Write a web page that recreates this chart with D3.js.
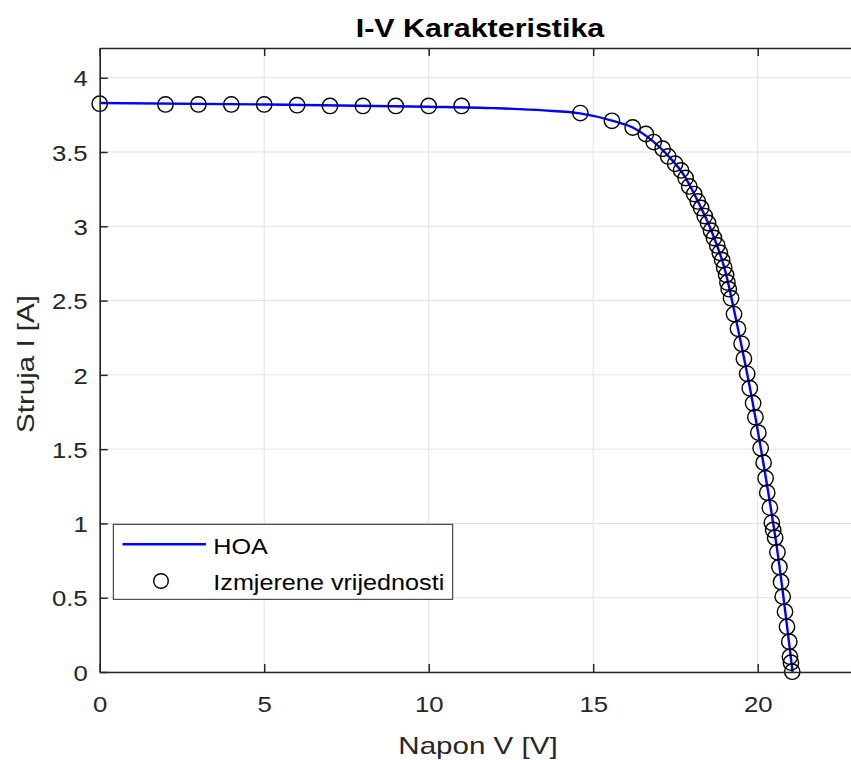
<!DOCTYPE html>
<html>
<head>
<meta charset="utf-8">
<script src="https://cdn.jsdelivr.net/npm/d3@7"></script>
<style>
  html, body { margin: 0; padding: 0; background: #fff; }
  svg { display: block; font-family: "Liberation Sans", Arial, sans-serif; }
</style>
</head>
<body>
<svg id="chart" width="851" height="760"></svg>
<script>
// Measured operating points (voltage V, current A)
const measuredV = [0, 2, 3, 4, 5, 6, 7, 8, 9, 10, 11,
  14.61, 15.57, 16.20, 16.60, 16.84, 17.11, 17.28, 17.49, 17.67, 17.81,
  17.92, 18.07, 18.18, 18.28, 18.39, 18.49, 18.58, 18.67, 18.77, 18.85,
  18.92, 18.98, 19.04, 19.08, 19.12, 19.19, 19.28, 19.40, 19.51, 19.58,
  19.68, 19.76, 19.86, 19.93, 20.02, 20.09, 20.18, 20.24, 20.29, 20.37,
  20.43, 20.47, 20.53, 20.60, 20.66, 20.71, 20.76, 20.83, 20.89, 20.96,
  20.98, 21.01, 21.05];
const measuredI = [3.825, 3.82, 3.82, 3.82, 3.82, 3.815, 3.81, 3.81, 3.81, 3.81, 3.81,
  3.762, 3.710, 3.665, 3.621, 3.567, 3.522, 3.470, 3.421, 3.376, 3.325,
  3.268, 3.217, 3.167, 3.123, 3.069, 3.022, 2.970, 2.921, 2.871, 2.822,
  2.772, 2.723, 2.673, 2.622, 2.577, 2.516, 2.409, 2.310, 2.209, 2.108,
  2.007, 1.910, 1.809, 1.715, 1.611, 1.506, 1.409, 1.304, 1.207, 1.106,
  1.005, 0.956, 0.904, 0.806, 0.707, 0.606, 0.507, 0.406, 0.305, 0.204,
  0.103, 0.063, 0.002];

// HOA model curve (knots of the fitted characteristic)
const hoaV = [0, 5, 10, 12, 13.5, 14.6, 15.6, 16.2, 16.8, 17.3, 17.8, 18.2, 18.6, 19.0, 19.4, 19.8, 20.2, 20.6, 21.06];
const hoaI = [3.83, 3.82, 3.805, 3.795, 3.78, 3.76, 3.71, 3.665, 3.575, 3.47, 3.33, 3.16, 2.965, 2.71, 2.31, 1.87, 1.37, 0.81, 0];

const xTicks = [0, 5, 10, 15, 20];
const yTicks = [0, 0.5, 1, 1.5, 2, 2.5, 3, 3.5, 4];
const xDomain = [0, 23];
const yDomain = [0, 4.2];

const titleText = "I-V Karakteristika";
const xLabel = "Napon V [V]";
const yLabel = "Struja I [A]";
const legendLabels = ["HOA", "Izmjerene vrijednosti"];

const svg = d3.select("#chart");
const plot = { left: 99.7, right: 856.4, top: 48, bottom: 672 };
const axisColor = "#262626";
const stretch = 1.12;

const x = d3.scaleLinear().domain(xDomain).range([plot.left, plot.right]);
const y = d3.scaleLinear().domain(yDomain).range([plot.bottom, plot.top]);

// grid
const grid = svg.append("g").attr("stroke", "#e1e1e1").attr("stroke-width", 1);
grid.selectAll(".gx").data(xTicks).join("line")
  .attr("x1", d => x(d)).attr("x2", d => x(d))
  .attr("y1", plot.top).attr("y2", plot.bottom);
grid.selectAll(".gy").data(yTicks).join("line")
  .attr("x1", plot.left).attr("x2", plot.right)
  .attr("y1", d => y(d)).attr("y2", d => y(d));

// HOA curve
const line = d3.line().x(d => x(d[0])).y(d => y(d[1])).curve(d3.curveMonotoneX);
svg.append("path")
  .datum(hoaV.map((v, i) => [v, hoaI[i]]))
  .attr("d", line)
  .attr("fill", "none").attr("stroke", "#0000ff").attr("stroke-width", 2.4);

// measured points
svg.append("g").selectAll("circle")
  .data(measuredV.map((v, i) => [v, measuredI[i]]))
  .join("circle")
  .attr("cx", d => x(d[0])).attr("cy", d => y(d[1])).attr("r", 7.7)
  .attr("fill", "none").attr("stroke", "#000").attr("stroke-width", 1.4);

// axes (ticks pointing inward)
const tickLen = 8;
const xAxisBottom = d3.axisBottom(x).tickValues(xTicks).tickSizeInner(-tickLen).tickSizeOuter(0).tickPadding(20);
const xAxisTop = d3.axisTop(x).tickValues(xTicks).tickSizeInner(-tickLen).tickSizeOuter(0).tickFormat("");
const yAxisLeft = d3.axisLeft(y).tickValues(yTicks).tickSizeInner(-tickLen).tickSizeOuter(0).tickPadding(13)
  .tickFormat(d3.format("~g"));

function styleAxis(g) {
  g.select(".domain").attr("stroke", axisColor).attr("stroke-width", 1.6);
  g.selectAll(".tick line").attr("stroke", axisColor).attr("stroke-width", 1.5);
  g.selectAll(".tick text").attr("fill", axisColor)
    .style("font-size", "23px").style("font-family", "'Liberation Sans', Arial, sans-serif");
}

const gxb = svg.append("g").attr("transform", `translate(0,${plot.bottom})`).call(xAxisBottom).call(styleAxis);
gxb.selectAll(".tick text").attr("dy", null).attr("y", 40)
  .attr("transform", `scale(${stretch},1)`);
const gxt = svg.append("g").attr("transform", `translate(0,${plot.top})`).call(xAxisTop).call(styleAxis);
const gyl = svg.append("g").attr("transform", `translate(${plot.left},0)`).call(yAxisLeft).call(styleAxis);
gyl.selectAll(".tick text").attr("dy", "0.36em").attr("x", -12 / stretch)
  .attr("transform", `scale(${stretch},1)`);

// title and axis labels
svg.append("text")
  .attr("transform", `translate(480,37) scale(1.17,1)`)
  .attr("text-anchor", "middle").attr("fill", "#000")
  .style("font-size", "26px").style("font-weight", "bold")
  .text(titleText);

svg.append("text")
  .attr("transform", `translate(478,754) scale(${stretch * 1.1},1)`)
  .attr("text-anchor", "middle").attr("fill", axisColor)
  .style("font-size", "24px")
  .text(xLabel);

svg.append("text")
  .attr("transform", `translate(34,364) rotate(-90) scale(${stretch * 1.1},1)`)
  .attr("text-anchor", "middle").attr("fill", axisColor)
  .style("font-size", "24px")
  .text(yLabel);

// legend
const leg = svg.append("g");
leg.append("rect")
  .attr("x", 113.3).attr("y", 524.3).attr("width", 339.4).attr("height", 75)
  .attr("fill", "#fff").attr("stroke", axisColor).attr("stroke-width", 1);
leg.append("line")
  .attr("x1", 122.5).attr("x2", 206).attr("y1", 544.3).attr("y2", 544.3)
  .attr("stroke", "#0000ff").attr("stroke-width", 2.4);
leg.append("circle")
  .attr("cx", 161).attr("cy", 581).attr("r", 7.3)
  .attr("fill", "none").attr("stroke", "#000").attr("stroke-width", 1.4);
leg.selectAll("text.lbl").data(legendLabels).join("text")
  .attr("class", "lbl")
  .attr("transform", (d, i) => `translate(213.3,${i === 0 ? 553.5 : 590}) scale(${stretch},1)`)
  .attr("fill", "#000")
  .style("font-size", "22.5px")
  .text(d => d);
</script>
</body>
</html>
